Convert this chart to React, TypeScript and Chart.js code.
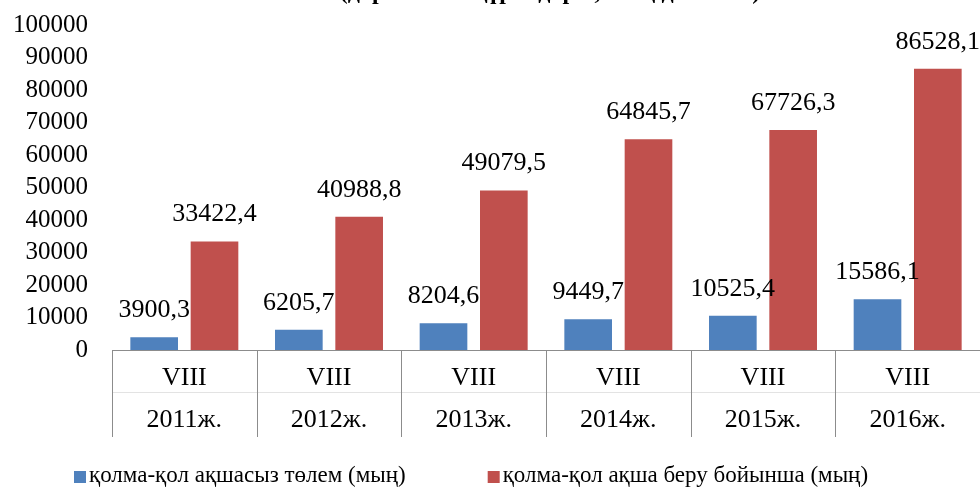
import React, { useEffect, useRef } from "react";
import { Chart, registerables } from "chart.js";

Chart.register(...registerables);

const months = ["VIII", "VIII", "VIII", "VIII", "VIII", "VIII"];
const years = ["2011ж.", "2012ж.", "2013ж.", "2014ж.", "2015ж.", "2016ж."];
const cashlessValues = [3900.3, 6205.7, 8204.6, 9449.7, 10525.4, 15586.1];
const cashValues = [33422.4, 40988.8, 49079.5, 64845.7, 67726.3, 86528.1];
const seriesNames = ["қолма-қол ақшасыз төлем (мың)", "қолма-қол ақша беру бойынша (мың)"];
const titleText = "(дара төлем құралдары, мың данамен)";
const yMax = 100000;
const yStep = 10000;

const FONT = "'Liberation Serif', 'Times New Roman', serif";
const BLUE = "#4F81BD";
const RED = "#C0504D";

const fmt = (v: number) => v.toFixed(1).replace(".", ",");

const decorPlugin = {
  id: "decor",
  afterDatasetsDraw(chart: any) {
    const ctx = chart.ctx;
    ctx.save();
    ctx.font = `26px ${FONT}`;
    ctx.fillStyle = "#000";
    ctx.textAlign = "center";
    ctx.textBaseline = "middle";
    chart.data.datasets.forEach((ds: any, di: number) => {
      const meta = chart.getDatasetMeta(di);
      meta.data.forEach((el: any, i: number) => {
        ctx.fillText(fmt(ds.data[i]), el.x, el.y - 27);
      });
    });
    ctx.restore();
  },
  afterDraw(chart: any) {
    const ctx = chart.ctx;
    const area = chart.chartArea;
    const xs = chart.scales.x;
    const n = chart.data.labels.length;
    const w = (xs.right - xs.left) / n;
    ctx.save();
    ctx.strokeStyle = "#8c8c8c";
    ctx.lineWidth = 1;
    ctx.beginPath();
    ctx.moveTo(xs.left, Math.round(area.bottom) + 0.5);
    ctx.lineTo(xs.right, Math.round(area.bottom) + 0.5);
    ctx.stroke();
    ctx.strokeStyle = "#e3e3e3";
    ctx.beginPath();
    ctx.moveTo(xs.left, Math.round(area.bottom) + 42.5);
    ctx.lineTo(xs.right, Math.round(area.bottom) + 42.5);
    ctx.stroke();
    ctx.strokeStyle = "#8c8c8c";
    for (let i = 0; i <= n; i++) {
      const x = Math.round(xs.left + i * w) + 0.5;
      ctx.beginPath();
      ctx.moveTo(x, area.bottom);
      ctx.lineTo(x, area.bottom + 87);
      ctx.stroke();
    }
    ctx.font = `bold 24px ${FONT}`;
    ctx.fillStyle = "#000";
    ctx.textAlign = "center";
    ctx.textBaseline = "alphabetic";
    ctx.fillText(titleText, 550, -1);
    ctx.font = `23px ${FONT}`;
    ctx.textAlign = "left";
    ctx.textBaseline = "middle";
    const colors = [BLUE, RED];
    const box = 12;
    const gapBox = 3;
    const gapItem = 82;
    let x = 74;
    const y = 476;
    seriesNames.forEach((s, i) => {
      ctx.fillStyle = colors[i];
      ctx.fillRect(x, y - box / 2 + 1, box, box);
      x += box + gapBox;
      ctx.fillStyle = "#000";
      ctx.fillText(s, x, y);
      x += ctx.measureText(s).width + gapItem;
    });
    ctx.restore();
  },
};

export default function App() {
  const ref = useRef<HTMLCanvasElement | null>(null);
  useEffect(() => {
    if (!ref.current) return;
    const chart = new Chart(ref.current, {
      type: "bar",
      data: {
        labels: months.map((m, i) => [m, years[i]]),
        datasets: [
          { label: seriesNames[0], data: cashlessValues, backgroundColor: BLUE, categoryPercentage: 0.834, barPercentage: 0.79 },
          { label: seriesNames[1], data: cashValues, backgroundColor: RED, categoryPercentage: 0.834, barPercentage: 0.79 },
        ],
      },
      options: {
        animation: false,
        responsive: false,
        maintainAspectRatio: false,
        layout: { padding: { top: 25, right: 0, bottom: 54, left: 0 } },
        plugins: { legend: { display: false }, title: { display: false }, tooltip: { enabled: false } },
        scales: {
          x: {
            offset: true,
            grid: { display: false, drawTicks: false },
            border: { display: false },
            ticks: {
              color: "#000",
              font: { family: FONT, size: 26, lineHeight: 1.615 },
              padding: 7,
              maxRotation: 0,
              autoSkip: false,
            },
            afterFit: (s: any) => {
              s.height = 87;
            },
          },
          y: {
            min: 0,
            max: yMax,
            grid: { display: false, drawTicks: false },
            border: { display: false },
            ticks: {
              stepSize: yStep,
              autoSkip: false,
              maxTicksLimit: 11,
              color: "#000",
              font: { family: FONT, size: 25, lineHeight: 1 },
              padding: 24,
              callback: (v: any) => String(v),
            },
            afterFit: (s: any) => {
              s.width = 112;
              s.paddingTop = 0;
              s.paddingBottom = 0;
            },
          },
        },
      },
      plugins: [decorPlugin],
    });
    return () => chart.destroy();
  }, []);
  return (
    <div style={{ position: "fixed", top: 0, left: 0, width: 980, height: 491, background: "#fff" }}>
      <canvas ref={ref} width={980} height={491} style={{ width: 980, height: 491 }} />
    </div>
  );
}
